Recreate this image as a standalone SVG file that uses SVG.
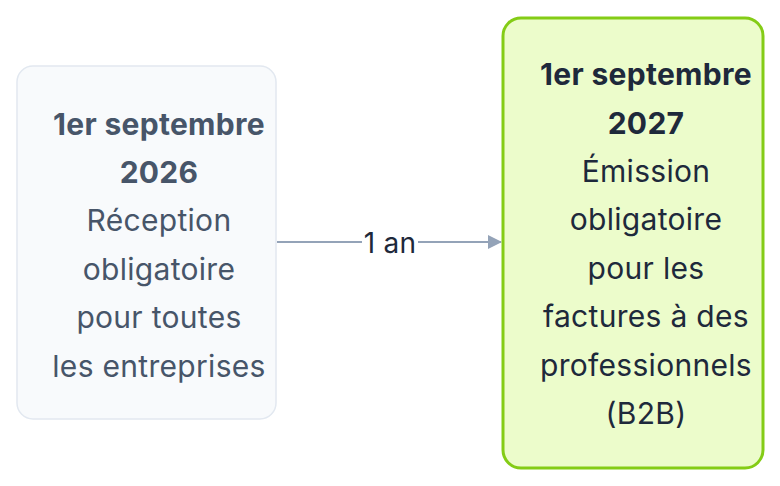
<svg xmlns="http://www.w3.org/2000/svg" width="780" height="486" viewBox="0 0 780 486">
<style>
text{font-family:"Inter","Liberation Sans",sans-serif;font-size:30px;text-anchor:middle;letter-spacing:0.3px}
.b{font-weight:bold}
.l{fill:#475569}
.r{fill:#1e293b}
</style>
<defs><marker id="a" markerWidth="14" markerHeight="14" refX="13" refY="7" orient="auto" markerUnits="userSpaceOnUse"><path d="M0,0L14,7L0,14z" fill="#94a3b8"/></marker></defs>
<rect width="780" height="486" fill="#fff"/>
<g id="connectors">
<line x1="277" y1="242" x2="501" y2="242" stroke="#94a3b8" stroke-width="2" marker-end="url(#a)"/>
<rect x="362" y="226" width="56" height="32" fill="#fff"/>
<text x="390" y="253" class="r" style="font-size:28px">1 an</text>
</g>
<g id="n1">
<rect x="17" y="66" width="259" height="353" rx="16" fill="#f8fafc" stroke="#e2e8f0" stroke-width="1.5"/>
<text x="159" y="135" class="l b">1er septembre</text>
<text x="159" y="183" class="l b">2026</text>
<text x="159" y="231" class="l">Réception</text>
<text x="159" y="280" class="l">obligatoire</text>
<text x="159" y="328" class="l">pour toutes</text>
<text x="159" y="377" class="l">les entreprises</text>
</g>
<g id="n2">
<rect x="503" y="18" width="260" height="450" rx="18" fill="#ecfccb" stroke="#84cc16" stroke-width="3"/>
<text x="646" y="85" class="r b">1er septembre</text>
<text x="646" y="134" class="r b">2027</text>
<text x="646" y="182" class="r">Émission</text>
<text x="646" y="230" class="r">obligatoire</text>
<text x="646" y="279" class="r">pour les</text>
<text x="646" y="327" class="r">factures à des</text>
<text x="646" y="376" class="r">professionnels</text>
<text x="646" y="424" class="r">(B2B)</text>
</g>
</svg>
